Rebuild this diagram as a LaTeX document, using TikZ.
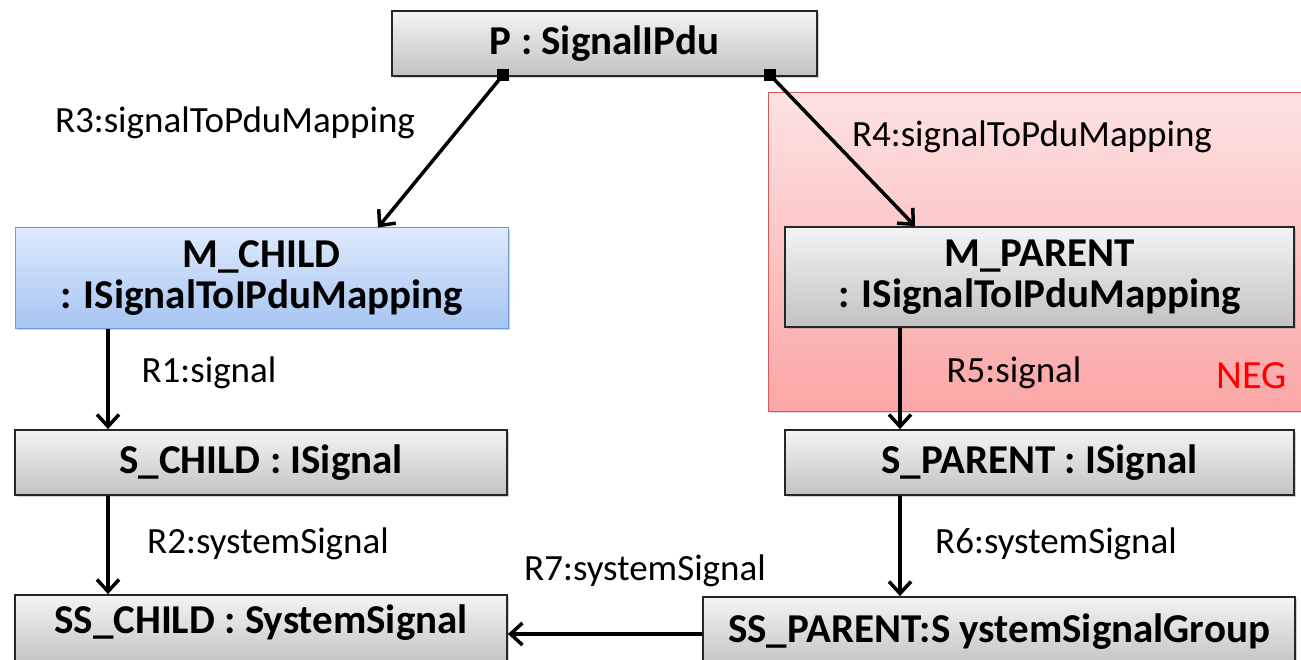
\documentclass[tikz,border=0pt]{standalone}
\usepackage{fontspec}
\setmainfont{Carlito}
\usetikzlibrary{arrows.meta,shadows,calc}

\definecolor{boxtop}{HTML}{F4F4F4}
\definecolor{boxbot}{HTML}{C2C2C2}
\definecolor{bluetop}{HTML}{DEEAFC}
\definecolor{bluebot}{HTML}{A6C4F2}
\definecolor{blueline}{HTML}{6E9BD6}
\definecolor{redtop}{HTML}{FDE2E2}
\definecolor{redbot}{HTML}{FBA6A6}
\definecolor{redline}{HTML}{D25A5A}
\definecolor{negtext}{HTML}{FF0000}

\begin{document}
\begin{tikzpicture}[x=1pt,y=-1pt,
  obj/.style={draw=black!85, line width=1.8pt, top color=boxtop, bottom color=boxbot,
    font=\bfseries\fontsize{41}{41}\selectfont, inner sep=0pt, align=center,
    drop shadow={shadow xshift=2pt,shadow yshift=-2pt,opacity=0.35}},
  hiobj/.style={obj, draw=blueline, line width=1pt, top color=bluetop, bottom color=bluebot},
  negzone/.style={draw=redline, line width=1pt, top color=redtop, bottom color=redbot, inner sep=0pt,
    drop shadow={shadow xshift=2pt,shadow yshift=-2pt,opacity=0.25}},
  role/.style={font=\fontsize{37}{40}\selectfont, anchor=base, inner sep=0pt},
  src/.style={fill=black, draw=none, minimum size=12pt, inner sep=0pt},
  link/.style={line width=3.5pt, -{Straight Barb[length=12pt,width=22pt,line width=3.5pt]}}
]
\useasboundingbox (0,0) rectangle (1301,660);
\begin{scope}
\clip (0,0) rectangle (1301,660);

% negative-application area behind M_PARENT
\node[negzone, minimum width=545pt, minimum height=318pt] (neg) at (1040.5,252) {};
\node[font=\fontsize{40}{40}\selectfont, text=negtext, anchor=base, inner sep=0pt] (negl) at (1252,388) {NEG};

% objects
\node[obj, minimum width=425pt, minimum height=65pt] (p) at (604.5,43.5) {P : SignalIPdu};
\node[hiobj, minimum width=493pt, minimum height=100pt] (mc) at (261.5,278) {M\_CHILD\\: ISignalToIPduMapping};
\node[obj, minimum width=509pt, minimum height=100pt] (mp) at (1039.5,277) {M\_PARENT\\: ISignalToIPduMapping};
\node[obj, minimum width=492pt, minimum height=65pt] (sc) at (261,462.5) {S\_CHILD : ISignal};
\node[obj, minimum width=509pt, minimum height=65pt] (sp) at (1039.5,462.5) {S\_PARENT : ISignal};
\node[obj, minimum width=492pt, minimum height=70pt, text depth=22pt] (ssc) at (261,630) {SS\_CHILD : SystemSignal};
\node[obj, minimum width=592pt, minimum height=70pt] (ssp) at (999,632) {SS\_PARENT:S ystemSignalGroup};

% composition ends on P
\node[src] (s1) at (503,75) {};
\node[src] (s2) at (770,75) {};

% connectors
\draw[link] (s1.center) -- ([xshift=116.5pt]mc.north);
\draw[link] (s2.center) -- ([xshift=-124.5pt]mp.north);
\draw[link] ([xshift=-153.5pt]mc.south) -- ([xshift=-153pt]sc.north);
\draw[link] ([xshift=-139.5pt]mp.south) -- ([xshift=-139.5pt]sp.north);
\draw[link] ([xshift=-153pt]sc.south) -- ([xshift=-153pt]ssc.north);
\draw[link] ([xshift=-139.5pt]sp.south) -- ([xshift=-99pt]ssp.north);
\draw[link] ([yshift=-2pt]ssp.west) -- ([yshift=-2pt]ssp.west -| ssc.east);

% role labels
\node[role] (r3) at (235,133) {R3:signalToPduMapping};
\node[role] (r4) at (1032,147) {R4:signalToPduMapping};
\node[role] (r1) at (209,382) {R1:signal};
\node[role] (r5) at (1014,382) {R5:signal};
\node[role] (r2) at (268,553) {R2:systemSignal};
\node[role] (r6) at (1056,553) {R6:systemSignal};
\node[role] (r7) at (645,580) {R7:systemSignal};
\end{scope}
\end{tikzpicture}
\end{document}
